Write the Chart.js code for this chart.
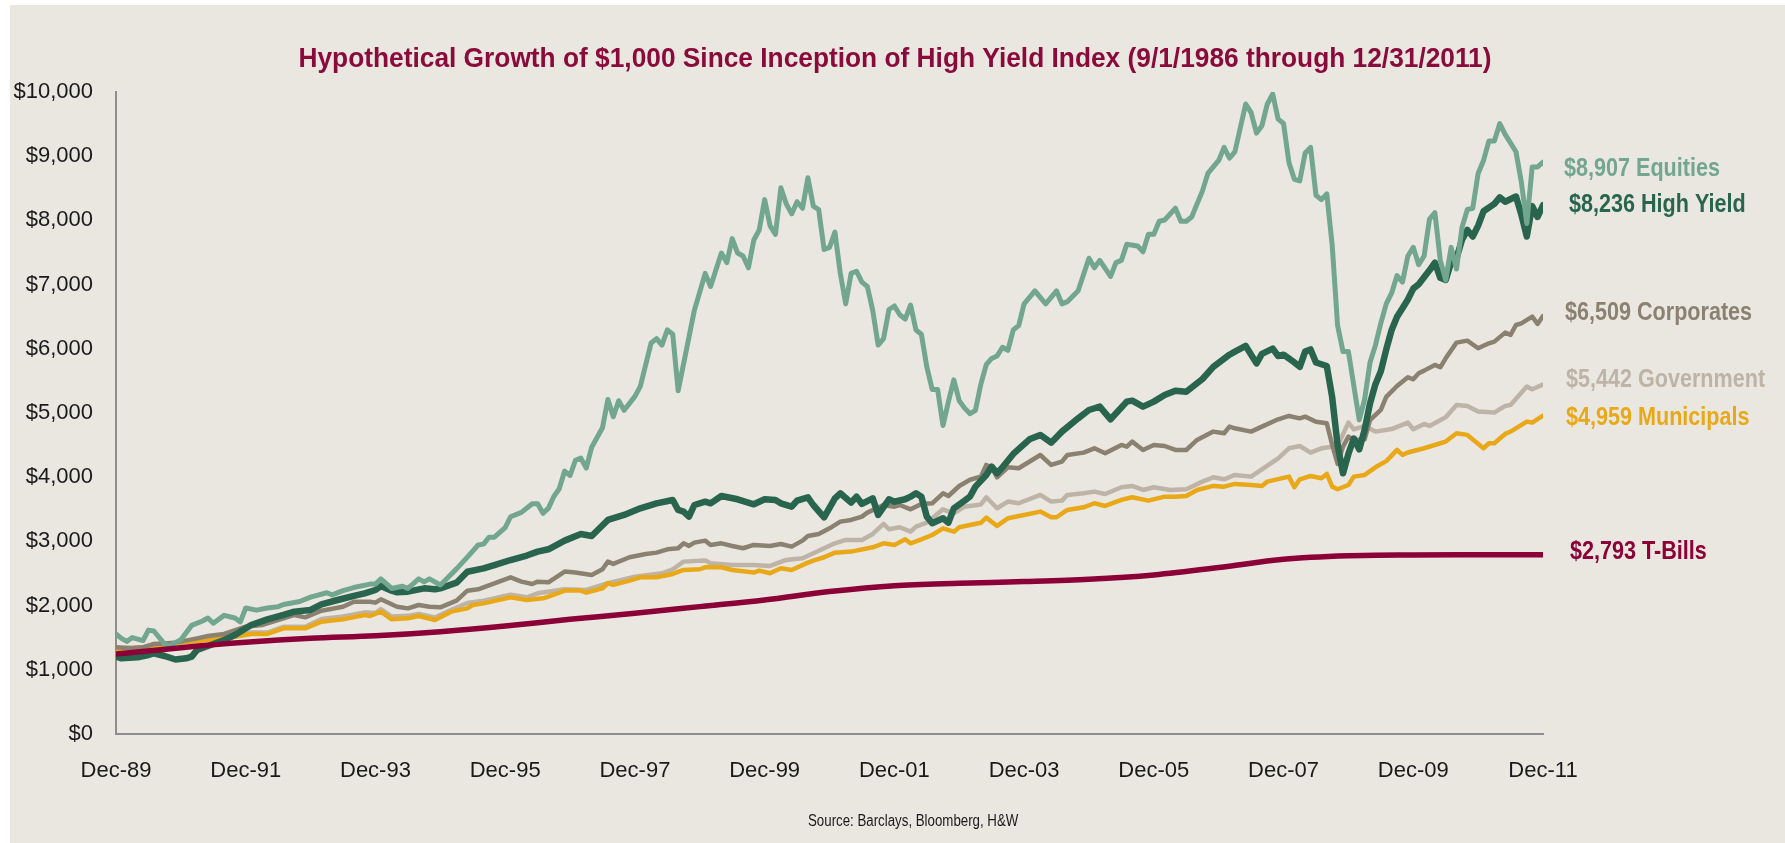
<!DOCTYPE html>
<html>
<head>
<meta charset="utf-8">
<script src="https://cdn.jsdelivr.net/npm/chart.js@4.4.1/dist/chart.umd.min.js"></script>
<style>
  html, body { margin: 0; padding: 0; background: #ffffff; overflow: hidden; }
  #wrap { position: absolute; left: 0; top: 0; width: 1785px; height: 843px; }
  canvas { display: block; }
</style>
</head>
<body>
<div id="wrap"><canvas id="chart" width="1785" height="843"></canvas></div>
<script>
// ---------------- DATA ----------------
// x = months since Dec-1989, y = value of $1,000 invested
const titleText = "Hypothetical Growth of $1,000 Since Inception of High Yield Index (9/1/1986 through 12/31/2011)";
const sourceText = "Source: Barclays, Bloomberg, H&W";
const tickLabels = ["Dec-89","Dec-91","Dec-93","Dec-95","Dec-97","Dec-99","Dec-01","Dec-03","Dec-05","Dec-07","Dec-09","Dec-11"];
const seriesNames = ["Equities","High Yield","Corporates","Government","Municipals","T-Bills"];
const endLabels = ["$8,907 Equities","$8,236 High Yield","$6,509 Corporates","$5,442 Government","$4,959 Municipals","$2,793 T-Bills"];

const equities = [[0,1557],[1,1489],[2,1442],[3,1502],[5,1455],[6,1618],[7,1604],[9,1401],[10,1374],[12,1469],[14,1692],[16,1760],[17,1807],[18,1726],[20,1848],[22,1807],[23,1746],[24,1963],[26,1929],[28,1963],[30,1983],[31,2017],[34,2064],[36,2132],[39,2200],[40,2166],[42,2233],[44,2281],[47,2335],[48,2335],[49,2416],[51,2267],[53,2301],[54,2267],[56,2416],[57,2369],[58,2416],[60,2321],[61,2403],[63,2572],[65,2755],[67,2944],[68,2958],[69,3066],[70,3066],[72,3215],[73,3384],[75,3452],[77,3587],[78,3587],[79,3438],[80,3519],[81,3700],[82,3820],[83,4095],[84,4027],[85,4264],[86,4298],[87,4142],[88,4467],[90,4771],[91,5211],[92,4941],[93,5191],[94,5042],[96,5259],[97,5414],[99,6091],[100,6159],[101,6057],[102,6294],[103,6227],[104,5347],[107,6599],[109,7174],[110,6971],[112,7492],[113,7343],[114,7716],[115,7492],[116,7445],[117,7262],[118,7695],[119,7851],[120,8324],[121,7919],[122,7783],[123,8507],[124,8257],[125,8101],[126,8291],[127,8189],[128,8663],[129,8223],[130,8169],[131,7546],[132,7580],[133,7817],[134,7174],[135,6700],[136,7174],[137,7208],[138,7039],[139,6971],[140,6599],[141,6057],[142,6159],[143,6612],[144,6667],[145,6531],[146,6463],[147,6680],[148,6294],[149,6227],[150,5719],[151,5367],[152,5367],[153,4805],[154,5177],[155,5516],[156,5191],[157,5076],[158,4988],[159,5042],[160,5448],[161,5753],[162,5850],[163,5888],[164,6024],[165,5976],[166,6294],[167,6362],[168,6700],[170,6903],[172,6700],[174,6903],[175,6700],[176,6734],[178,6903],[180,7411],[181,7262],[182,7377],[184,7127],[185,7343],[186,7377],[187,7628],[189,7600],[190,7512],[191,7783],[192,7783],[193,7986],[194,8007],[196,8189],[197,7986],[198,7986],[199,8054],[201,8460],[202,8731],[204,8934],[205,9137],[206,8968],[207,9069],[209,9814],[210,9678],[211,9360],[212,9475],[213,9814],[214,9969],[215,9577],[216,9509],[217,8900],[218,8640],[219,8616],[220,9049],[221,9137],[222,8392],[223,8324],[224,8413],[225,7614],[226,6362],[227,5956],[228,5956],[230,4893],[231,5211],[232,5787],[233,6057],[234,6400],[235,6700],[236,6870],[237,7140],[238,7039],[239,7445],[240,7580],[241,7309],[242,7445],[243,8020],[244,8122],[245,7377],[246,7072],[247,7580],[248,7242],[249,7885],[250,8169],[251,8189],[252,8731],[253,8934],[254,9238],[255,9238],[256,9509],[257,9340],[259,9069],[260,8595],[261,7952],[262,8832],[263,8832],[264,8907]];

const highYield = [[0,1205],[1,1179],[4,1194],[6,1231],[7,1257],[9,1215],[11,1160],[13,1179],[14,1205],[15,1309],[17,1371],[20,1464],[22,1542],[25,1698],[28,1786],[31,1854],[33,1906],[36,1932],[38,2020],[41,2087],[44,2150],[46,2191],[48,2243],[49,2305],[51,2232],[52,2207],[54,2217],[57,2269],[59,2253],[60,2269],[63,2357],[65,2528],[68,2580],[70,2632],[73,2710],[76,2780],[78,2841],[80,2877],[83,3012],[86,3116],[88,3085],[91,3334],[94,3412],[97,3515],[100,3593],[103,3645],[104,3490],[105,3464],[106,3386],[107,3567],[109,3619],[110,3593],[112,3708],[115,3656],[118,3578],[120,3656],[122,3645],[123,3593],[125,3541],[126,3635],[128,3687],[129,3567],[131,3375],[133,3671],[134,3749],[136,3604],[137,3697],[138,3583],[140,3671],[141,3412],[143,3656],[144,3619],[146,3656],[147,3697],[148,3749],[149,3697],[150,3386],[151,3282],[153,3360],[154,3292],[155,3515],[157,3635],[158,3700],[159,3853],[161,4035],[162,4165],[163,4061],[164,4154],[166,4362],[169,4590],[171,4658],[173,4538],[175,4710],[178,4917],[180,5047],[182,5099],[184,4902],[187,5177],[188,5192],[190,5099],[192,5177],[194,5280],[196,5348],[198,5330],[201,5530],[203,5719],[206,5908],[207,5956],[209,6044],[211,5773],[212,5922],[214,6003],[215,5888],[216,5908],[218,5787],[219,5719],[220,5956],[221,5990],[222,5787],[224,5732],[225,5245],[226,4501],[227,4061],[228,4365],[229,4602],[230,4433],[231,4738],[232,5150],[233,5448],[234,5650],[235,5990],[236,6294],[237,6500],[238,6633],[239,6768],[240,6937],[241,7005],[243,7222],[244,7343],[245,7106],[246,7072],[247,7343],[248,7411],[249,7695],[250,7851],[251,7749],[252,7918],[253,8142],[255,8257],[256,8358],[257,8291],[259,8372],[260,8088],[261,7749],[262,8223],[263,8054],[264,8236]];

const corporates = [[0,1350],[3,1335],[5,1350],[7,1402],[11,1423],[15,1490],[17,1527],[20,1558],[24,1672],[27,1698],[28,1724],[31,1802],[33,1854],[35,1817],[38,1921],[42,1983],[44,2061],[47,2061],[48,2046],[49,2098],[52,1983],[54,1957],[56,2009],[58,1983],[60,1973],[63,2077],[65,2233],[67,2253],[70,2347],[73,2440],[75,2373],[77,2336],[78,2373],[80,2362],[83,2530],[85,2514],[88,2477],[90,2566],[91,2685],[92,2649],[95,2753],[98,2804],[100,2825],[102,2877],[104,2893],[105,2970],[106,2929],[107,2981],[109,3012],[110,2945],[112,2970],[114,2929],[116,2893],[118,2945],[121,2929],[123,2960],[125,2919],[127,3012],[128,3085],[130,3116],[132,3204],[134,3308],[136,3334],[138,3386],[139,3448],[142,3567],[144,3541],[145,3567],[147,3500],[149,3583],[151,3593],[153,3749],[154,3707],[156,3863],[158,3960],[160,4009],[161,4191],[162,4154],[163,3998],[165,4154],[167,4139],[171,4346],[173,4191],[175,4242],[176,4346],[179,4383],[181,4450],[183,4372],[186,4502],[187,4476],[188,4554],[190,4424],[192,4502],[194,4486],[196,4424],[198,4424],[200,4580],[203,4710],[205,4684],[206,4788],[207,4762],[210,4710],[212,4788],[215,4902],[217,4954],[219,4917],[220,4943],[222,4865],[224,4839],[225,4502],[226,4206],[227,4476],[228,4632],[229,4580],[231,4590],[232,4891],[234,5050],[235,5250],[237,5420],[239,5557],[240,5525],[241,5619],[242,5660],[244,5749],[245,5712],[246,5852],[248,6096],[250,6127],[252,6008],[254,6086],[255,6112],[257,6252],[258,6216],[259,6371],[260,6397],[262,6501],[263,6387],[264,6509]];

const government = [[0,1330],[5,1350],[11,1425],[17,1475],[22,1530],[25,1580],[28,1580],[31,1670],[35,1670],[38,1790],[42,1830],[46,1895],[48,1885],[49,1945],[51,1830],[54,1840],[56,1870],[59,1815],[62,1935],[65,2040],[68,2075],[73,2170],[76,2130],[78,2192],[83,2254],[87,2244],[91,2348],[96,2451],[101,2503],[103,2566],[105,2685],[109,2701],[110,2659],[114,2633],[118,2633],[121,2618],[124,2711],[127,2737],[129,2815],[133,2970],[135,3023],[138,3023],[140,3116],[142,3272],[143,3189],[145,3220],[147,3152],[148,3230],[150,3292],[153,3500],[155,3438],[157,3541],[160,3575],[161,3687],[163,3516],[165,3620],[167,3594],[171,3724],[173,3620],[175,3635],[176,3724],[179,3750],[181,3775],[183,3739],[186,3843],[188,3864],[190,3801],[192,3843],[195,3801],[198,3812],[201,3931],[203,3998],[205,3967],[207,4035],[210,4009],[212,4123],[215,4294],[217,4450],[219,4486],[221,4383],[223,4450],[226,4486],[228,4850],[229,4746],[231,4798],[233,4710],[236,4750],[239,4851],[240,4747],[242,4830],[243,4799],[246,4934],[248,5126],[250,5110],[252,5022],[255,5006],[257,5110],[258,5126],[261,5411],[262,5370],[264,5442]];

const municipals = [[0,1319],[5,1350],[11,1413],[17,1464],[22,1516],[25,1558],[28,1558],[31,1646],[35,1646],[38,1750],[42,1786],[46,1854],[47,1838],[49,1906],[51,1786],[54,1802],[56,1838],[59,1776],[62,1906],[65,1957],[66,2009],[68,2035],[73,2129],[76,2087],[79,2113],[80,2140],[83,2234],[86,2234],[87,2202],[90,2270],[91,2348],[92,2322],[95,2389],[97,2441],[100,2441],[103,2493],[105,2555],[108,2566],[109,2597],[112,2597],[114,2555],[118,2514],[119,2545],[121,2503],[123,2581],[125,2555],[128,2670],[129,2701],[131,2753],[133,2825],[136,2841],[140,2908],[142,2970],[144,2945],[146,3033],[147,2970],[149,3033],[151,3100],[153,3204],[155,3152],[156,3220],[158,3256],[160,3290],[161,3370],[163,3241],[165,3360],[168,3412],[171,3464],[173,3376],[174,3376],[176,3490],[179,3531],[181,3594],[183,3552],[186,3646],[188,3687],[191,3635],[194,3697],[196,3697],[198,3708],[200,3801],[203,3864],[205,3853],[207,3895],[210,3879],[212,3864],[213,3931],[217,4009],[218,3843],[219,3967],[221,4019],[223,3983],[224,4050],[225,3853],[226,3812],[228,3879],[229,4009],[231,4035],[233,4154],[235,4250],[237,4425],[238,4347],[239,4384],[242,4451],[245,4529],[246,4555],[248,4685],[250,4659],[253,4451],[254,4529],[255,4529],[257,4674],[258,4711],[261,4866],[262,4851],[264,4959]];

const tBills = [[0,1245],[12,1345],[24,1428],[36,1490],[48,1530],[60,1594],[72,1682],[84,1787],[96,1881],[108,1984],[120,2088],[132,2218],[144,2311],[156,2348],[168,2374],[180,2410],[192,2478],[204,2592],[216,2722],[228,2775],[240,2788],[252,2791],[264,2793]];

const seriesData = [equities, highYield, corporates, government, municipals, tBills];

// ---------------- STYLE ----------------
const colors = ["#72a68f", "#29654e", "#8b8171", "#beb3a7", "#e9a818", "#8b0037"];
const widths = [5, 6.5, 4.5, 4.5, 4.5, 5.5];
const drawOrder = [1, 2, 3, 5, 4, 0];           // lower = drawn on top
const labelDx = [21, 26, 22, 23, 23, 27];
const labelDy = [7, 0, -3, -5, 2, -3];
const bgColor = "#eae7e1";
const titleColor = "#8a0a3c";
const axisColor = "#8e8e8e";

function drawCondensed(ctx, text, x, y, font, color, sx, align) {
  ctx.save();
  ctx.font = font;
  ctx.fillStyle = color;
  ctx.textBaseline = "middle";
  ctx.textAlign = align;
  ctx.translate(x, y);
  ctx.scale(sx, 1);
  ctx.fillText(text, 0, 0);
  ctx.restore();
}

const backgroundPlugin = {
  id: "bg",
  beforeDraw(chart) {
    const ctx = chart.ctx;
    ctx.save();
    ctx.fillStyle = "#ffffff";
    ctx.fillRect(0, 0, chart.width, chart.height);
    ctx.fillStyle = bgColor;
    ctx.fillRect(10, 5, chart.width - 10, chart.height - 5);
    ctx.restore();
  }
};

const textPlugin = {
  id: "texts",
  afterDraw(chart) {
    const ctx = chart.ctx;
    const area = chart.chartArea;
    const titleFont = "bold 27px 'Liberation Sans', Arial, sans-serif";
    ctx.save();
    ctx.font = titleFont;
    const w = ctx.measureText(titleText).width;
    ctx.restore();
    drawCondensed(ctx, titleText, 895, 60, titleFont, titleColor, 1193 / w, "center");
    drawCondensed(ctx, sourceText, 808, 822, "16px 'Liberation Sans', Arial, sans-serif", "#1a1a1a", 0.83, "left");
    chart.data.datasets.forEach((ds, i) => {
      const meta = chart.getDatasetMeta(i);
      const pt = meta.data[meta.data.length - 1];
      drawCondensed(ctx, endLabels[i], area.right + labelDx[i], pt.y + labelDy[i],
        "bold 26px 'Liberation Sans', Arial, sans-serif", colors[i], 0.83, "left");
    });
  }
};

const datasets = seriesData.map((series, i) => ({
  label: seriesNames[i],
  data: series.map(p => ({ x: p[0], y: p[1] })),
  borderColor: colors[i],
  backgroundColor: colors[i],
  borderWidth: widths[i],
  pointRadius: 0,
  tension: 0,
  cubicInterpolationMode: i === 5 ? "monotone" : "default",
  borderJoinStyle: "round",
  borderCapStyle: "round",
  fill: false,
  order: drawOrder[i]
}));

new Chart(document.getElementById("chart"), {
  type: "line",
  data: { datasets },
  options: {
    responsive: false,
    devicePixelRatio: 1,
    animation: false,
    layout: { padding: { left: 0, right: 242, top: 92, bottom: 0 } },
    plugins: { legend: { display: false }, tooltip: { enabled: false }, title: { display: false } },
    scales: {
      x: {
        type: "linear",
        min: 0,
        max: 264,
        grid: { display: false, drawTicks: false },
        border: { display: true, color: axisColor, width: 2 },
        ticks: {
          stepSize: 24,
          autoSkip: false,
          maxRotation: 0,
          padding: 24,
          color: "#1a1a1a",
          font: { family: "'Liberation Sans', Arial, sans-serif", size: 22 },
          callback: (v) => tickLabels[Math.round(v / 24)]
        },
        afterFit(scale) { scale.height = 109; }
      },
      y: {
        min: 0,
        max: 10000,
        grid: { display: false, drawTicks: false },
        border: { display: true, color: axisColor, width: 2 },
        ticks: {
          stepSize: 1000,
          padding: 23,
          color: "#1a1a1a",
          font: { family: "'Liberation Sans', Arial, sans-serif", size: 22 },
          callback: (v) => "$" + Number(v).toLocaleString("en-US")
        },
        afterFit(scale) { scale.width = 116; }
      }
    }
  },
  plugins: [backgroundPlugin, textPlugin]
});
</script>
</body>
</html>
